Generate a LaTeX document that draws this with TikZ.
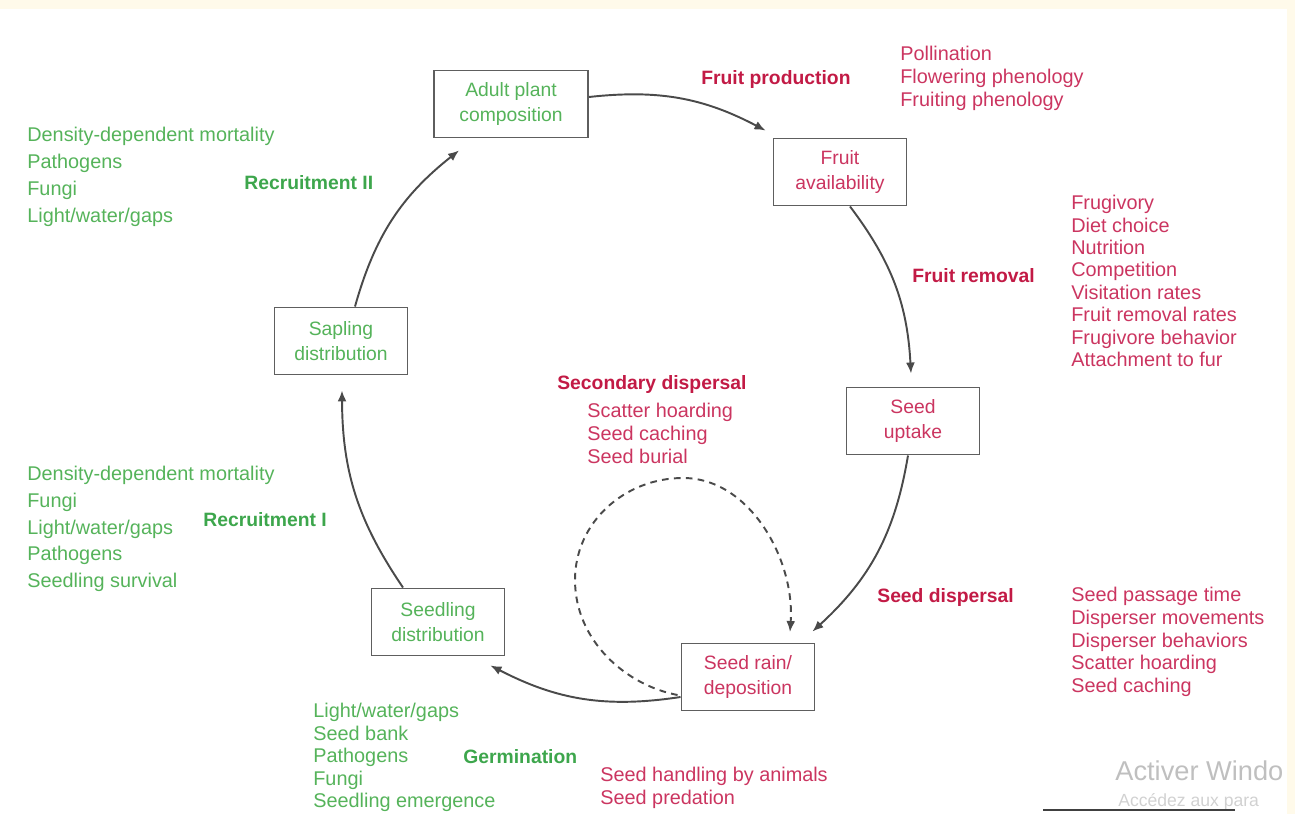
\documentclass[tikz,border=0pt]{standalone}
\usepackage{fontspec}
\setmainfont{Liberation Sans}
\usetikzlibrary{arrows.meta}
\definecolor{leaf}{HTML}{55B35A}
\definecolor{leafdark}{HTML}{3DA64C}
\definecolor{berry}{HTML}{CB3560}
\definecolor{berrydark}{HTML}{C21A45}
\definecolor{frame}{HTML}{5E5E5E}
\definecolor{flow}{HTML}{4A4A4A}
\definecolor{screen}{HTML}{FFFAEA}

\begin{document}
\begin{tikzpicture}[
  x=0.02cm, y=-0.02cm,
  stage/.style={draw=frame, line width=1.1pt, fill=white, minimum width=2.66cm,
    minimum height=1.34cm, align=center, inner sep=2pt,
    font=\fontsize{11}{14.5}\selectfont},
  flowarrow/.style={-{Latex[length=2.2mm, width=1.8mm]}, draw=flow, line width=1.1pt},
  loopflow/.style={-{Latex[length=2.2mm, width=1.8mm]}, draw=flow, line width=1.1pt,
    dash pattern=on 3.8pt off 3pt},
  factor/.style={align=left, anchor=north west, inner sep=0pt,
    font=\fontsize{11.3}{13.1}\selectfont},
  stagename/.style={anchor=north west, inner sep=0pt,
    font=\fontsize{11}{13}\selectfont\bfseries}
]
  \useasboundingbox (0,0) rectangle (1295,814);
  \fill[screen] (0,0) rectangle (1295,9);
  \fill[screen] (1287,0) rectangle (1295,814);

  % the six stages of the cycle
  \node[stage, text=leaf, minimum width=3.08cm] (adult) at (511,104) {Adult plant\\composition};
  \node[stage, text=berry] (fruit) at (840,172) {Fruit\\availability};
  \node[stage, text=berry] (uptake) at (913,421) {Seed\\uptake};
  \node[stage, text=berry] (rain) at (748,677) {Seed rain/\\deposition};
  \node[stage, text=leaf] (seedling) at (438,622) {Seedling\\distribution};
  \node[stage, text=leaf] (sapling) at (341,341) {Sapling\\distribution};

  \draw[flowarrow] ([shift={(0,-7)}]adult.east) to[bend left=17]
    ([shift={(-7,-7)}]fruit.north west);
  \draw[flowarrow] ([shift={(10,0)}]fruit.south) to[bend left=17]
    ([shift={(-2,-13)}]uptake.north);
  \draw[flowarrow] ([shift={(-5,0)}]uptake.south) to[bend left=19]
    ([shift={(-3,-11)}]rain.north east);
  \draw[flowarrow] ([shift={(0,20)}]rain.west) to[bend left=18]
    ([shift={(-15,9)}]seedling.south east);
  \draw[flowarrow] ([shift={(-35,0)}]seedling.north) to[bend left=17]
    ([shift={(1,15)}]sapling.south);
  \draw[flowarrow] ([shift={(14,0)}]sapling.north) to[bend left=18]
    ([shift={(26,12)}]adult.south west);

  % secondary dispersal loop
  \coordinate (loopend) at (790,632);
  \draw[loopflow] ([shift={(-3,18)}]rain.west) .. controls (625,685) and (575,640) .. (575,580)
    .. controls (575,522) and (625,478) .. (683,478)
    .. controls (750,478) and (795,560) .. (loopend);

  % processes and factors
  \node[stagename, text=berrydark] (prodname) at (701,70) {Fruit production};
  \node[factor, text=berry] (prodlist) at (900,46)
    {Pollination\\Flowering phenology\\Fruiting phenology};
  \node[stagename, text=berrydark] (remname) at (912,268) {Fruit removal};
  \node[factor, text=berry, font=\fontsize{11.3}{12.75}\selectfont] (remlist) at (1071,195)
    {Frugivory\\Diet choice\\Nutrition\\Competition\\Visitation rates\\Fruit removal rates\\Frugivore behavior\\Attachment to fur};
  \node[stagename, text=berrydark] (secname) at (557,375) {Secondary dispersal};
  \node[factor, text=berry] (seclist) at (587,403)
    {Scatter hoarding\\Seed caching\\Seed burial};
  \node[stagename, text=berrydark] (dispname) at (877,588) {Seed dispersal};
  \node[factor, text=berry, font=\fontsize{11.3}{12.9}\selectfont] (displist) at (1071,587)
    {Seed passage time\\Disperser movements\\Disperser behaviors\\Scatter hoarding\\Seed caching};
  \node[factor, text=berry] (handlist) at (600,767)
    {Seed handling by animals\\Seed predation};
  \node[stagename, text=leafdark] (germname) at (463,749) {Germination};
  \node[factor, text=leaf, font=\fontsize{11.3}{12.8}\selectfont] (germlist) at (313,703)
    {Light/water/gaps\\Seed bank\\Pathogens\\Fungi\\Seedling emergence};
  \node[stagename, text=leafdark] (rec1name) at (203,512) {Recruitment I};
  \node[factor, text=leaf, font=\fontsize{11.3}{15.2}\selectfont] (rec1list) at (27,466)
    {Density-dependent mortality\\Fungi\\Light/water/gaps\\Pathogens\\Seedling survival};
  \node[stagename, text=leafdark] (rec2name) at (244,175) {Recruitment II};
  \node[factor, text=leaf, font=\fontsize{11.3}{15.4}\selectfont] (rec2list) at (27,127)
    {Density-dependent mortality\\Pathogens\\Fungi\\Light/water/gaps};

  % screen watermark
  \node[anchor=base west, inner sep=0pt, text=black!25, font=\fontsize{15.5}{18}\selectfont]
    (wmark) at (1115,780) {Activer Windo};
  \node[anchor=base west, inner sep=0pt, text=black!18, font=\fontsize{10}{12}\selectfont]
    (wmarksub) at (1118,806) {Accédez aux para};
  \coordinate (rulestart) at (1043,810);
  \coordinate (ruleend) at (1235,810);
  \draw[black!75, line width=1.2pt] (rulestart) -- (ruleend);
\end{tikzpicture}
\end{document}
